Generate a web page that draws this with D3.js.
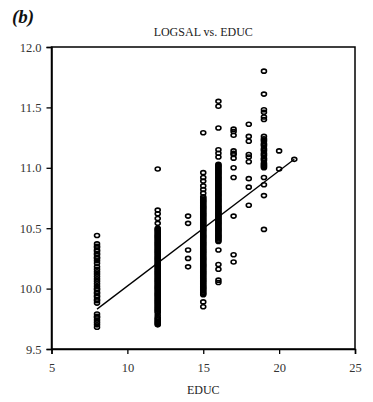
<!DOCTYPE html>
<html><head><meta charset="utf-8">
<script src="https://cdn.jsdelivr.net/npm/d3@7"></script>
<style>
html,body{margin:0;padding:0;background:#fff;}
svg{display:block;}
text{font-family:"Liberation Serif","DejaVu Serif",serif;}
</style></head>
<body><svg id="c" width="373" height="402"></svg>
<script>
// ---- data ----
const title = "LOGSAL vs. EDUC";
const panelLabel = "(b)";
const xLabel = "EDUC";
const xTicks = [5, 10, 15, 20, 25];
const yTicks = [9.5, 10.0, 10.5, 11.0, 11.5, 12.0];
const yTickLabels = ["9.5", "10.0", "10.5", "11.0", "11.5", "12.0"];

const logsal8 = [10.44, 10.37, 10.35, 10.34, 10.32, 10.31, 10.29, 10.28, 10.26, 10.25, 10.23, 10.21,
  10.18, 10.16, 10.14, 10.12, 10.10, 10.08, 10.06, 10.04, 10.02, 10.00, 9.99, 9.97, 9.96, 9.94,
  9.93, 9.91, 9.90, 9.88, 9.79, 9.77, 9.76, 9.74, 9.72, 9.70, 9.68];
const logsal12 = [10.99, 10.65, 10.62, 10.58, 10.54, 10.50, 10.48, 10.46, 10.44, 10.42, 10.40, 10.38,
  10.36, 10.34, 10.32, 10.30, 10.28, 10.26, 10.24, 10.22, 10.20, 10.18, 10.16, 10.14, 10.12, 10.10,
  10.08, 10.06, 10.04, 10.02, 10.00, 9.98, 9.96, 9.94, 9.92, 9.90, 9.88, 9.86, 9.84, 9.82, 9.80,
  9.78, 9.76, 9.74, 9.72, 9.70,
  10.49, 10.47, 10.45, 10.43, 10.41, 10.39, 10.37, 10.35, 10.33, 10.31, 10.29, 10.27, 10.25, 10.23,
  10.21, 10.19, 10.17, 10.15, 10.13, 10.11, 10.09, 10.07, 10.05, 10.03, 10.01, 9.99, 9.97, 9.95,
  9.93, 9.91, 9.89, 9.87, 9.85, 9.83, 9.81, 9.75, 9.73, 9.71];
const logsal14 = [10.60, 10.54, 10.32, 10.25, 10.18];
const logsal15 = [11.29, 10.96, 10.92, 10.89, 10.85, 10.82, 10.79, 10.76, 10.74, 10.72, 10.70, 10.68,
  10.66, 10.64, 10.62, 10.60, 10.58, 10.56, 10.54, 10.52, 10.50, 10.48, 10.46, 10.44, 10.42, 10.40,
  10.38, 10.36, 10.34, 10.32, 10.30, 10.28, 10.26, 10.24, 10.22, 10.20, 10.18, 10.16, 10.14, 10.12,
  10.10, 10.08, 10.06, 10.04, 10.02, 10.00, 9.98, 9.96, 9.95, 9.89, 9.85,
  10.75, 10.73, 10.71, 10.69, 10.67, 10.65, 10.63, 10.61, 10.59, 10.57, 10.55, 10.53, 10.51, 10.49,
  10.47, 10.45, 10.43, 10.41, 10.39, 10.37, 10.35, 10.33, 10.31, 10.29, 10.27, 10.25, 10.23, 10.21,
  10.19, 10.17, 10.15, 10.13, 10.11, 10.09, 10.07, 10.05, 10.03, 10.01, 9.99, 9.97];
const logsal16 = [11.55, 11.51, 11.33, 11.15, 11.12, 11.09, 11.03, 11.01, 10.99, 10.97, 10.95, 10.93,
  10.91, 10.89, 10.87, 10.85, 10.83, 10.81, 10.79, 10.77, 10.75, 10.73, 10.71, 10.69, 10.67, 10.65,
  10.63, 10.61, 10.59, 10.57, 10.55, 10.53, 10.51, 10.49, 10.47, 10.45, 10.43, 10.41, 10.39, 10.32,
  10.20, 10.16, 10.07, 10.05,
  11.02, 11.00, 10.98, 10.96, 10.94, 10.92, 10.90, 10.88, 10.86, 10.84, 10.82, 10.80, 10.78, 10.76,
  10.74, 10.72, 10.70, 10.68, 10.66, 10.64, 10.62, 10.60, 10.58, 10.56, 10.54, 10.52, 10.50, 10.48,
  10.46, 10.44, 10.42, 10.40];
const logsal17 = [11.32, 11.30, 11.27, 11.14, 11.12, 11.11, 11.08, 11.00, 10.92, 10.60, 10.28, 10.22];
const logsal18 = [11.36, 11.26, 11.22, 11.11, 11.09, 11.05, 10.91, 10.84, 10.69];
const logsal19 = [11.80, 11.61, 11.48, 11.46, 11.42, 11.40, 11.26, 11.24, 11.22, 11.20, 11.18, 11.16,
  11.14, 11.12, 11.10, 11.08, 11.06, 11.04, 11.02, 11.00, 10.92, 10.86, 10.77, 10.49,
  11.23, 11.19, 11.15, 11.11, 11.07, 11.03, 11.01];
const logsal20 = [11.14, 10.99];
const logsal21 = [11.07];

const educGroups = [8, 12, 14, 15, 16, 17, 18, 19, 20, 21];
const logsalGroups = [logsal8, logsal12, logsal14, logsal15, logsal16, logsal17, logsal18, logsal19, logsal20, logsal21];

// fitted regression line
const fitEduc = [8, 21];
const fitLogsal = [9.83, 11.07];

// ---- drawing ----
const svg = d3.select("#c");
const x = d3.scaleLinear().domain([5, 25]).range([51.5, 355]);
const y = d3.scaleLinear().domain([9.5, 12]).range([349, 47]);

const points = [];
educGroups.forEach((e, i) => logsalGroups[i].forEach(v => points.push({educ: e, logsal: v})));

// frame
svg.append("rect")
  .attr("x", x(5)).attr("y", y(12))
  .attr("width", x(25) - x(5)).attr("height", y(9.5) - y(12))
  .attr("fill", "none").attr("stroke", "#000").attr("stroke-width", 1.5);

const xAxis = svg.append("g").attr("transform", `translate(0,${y(9.5)})`)
  .call(d3.axisBottom(x).tickValues(xTicks).tickSize(5).tickPadding(9).tickFormat(d3.format("d")));
const yAxis = svg.append("g").attr("transform", `translate(${x(5)},0)`)
  .call(d3.axisLeft(y).tickValues(yTicks).tickSize(5).tickPadding(5).tickFormat((d, i) => yTickLabels[i]));
[xAxis, yAxis].forEach(a => {
  a.select(".domain").attr("stroke", "#000").attr("stroke-width", 1.5);
  a.selectAll(".tick line").attr("stroke", "#000").attr("stroke-width", 1.3);
  a.selectAll(".tick text").attr("fill", "#333").style("font-size", "12.5px")
    .style("font-family", '"Liberation Serif",serif');
});

// points
svg.append("g").selectAll("ellipse").data(points).join("ellipse")
  .attr("cx", d => x(d.educ)).attr("cy", d => y(d.logsal))
  .attr("rx", 2.5).attr("ry", 2.0)
  .attr("fill", "none").attr("stroke", "#000").attr("stroke-width", 1.6);

// regression line
svg.append("line")
  .attr("x1", x(fitEduc[0])).attr("y1", y(fitLogsal[0]))
  .attr("x2", x(fitEduc[1])).attr("y2", y(fitLogsal[1]))
  .attr("stroke", "#000").attr("stroke-width", 1.3);

// texts
svg.append("text").attr("x", 12).attr("y", 23)
  .style("font-size", "19px").style("font-weight", "bold").style("font-style", "italic")
  .attr("fill", "#111").text(panelLabel);
svg.append("text").attr("x", (x(5) + x(25)) / 2).attr("y", 36).attr("text-anchor", "middle")
  .style("font-size", "12px").attr("fill", "#222").text(title);
svg.append("text").attr("x", (x(5) + x(25)) / 2).attr("y", 394).attr("text-anchor", "middle")
  .style("font-size", "12px").attr("fill", "#222").text(xLabel);
</script></body></html>
